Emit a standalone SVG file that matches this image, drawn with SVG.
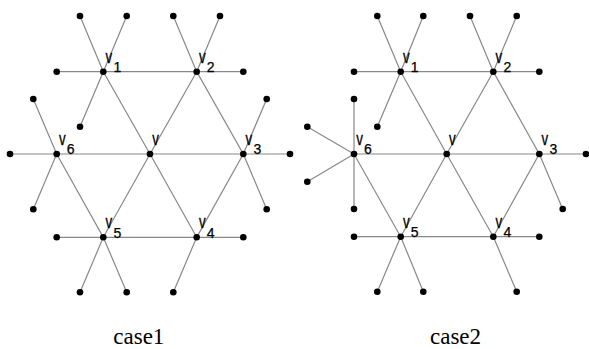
<svg xmlns="http://www.w3.org/2000/svg" width="589" height="349" viewBox="0 0 589 349">
<style>
.e{stroke:#888;stroke-width:1.2;fill:none}
.n{fill:#000}
.lv{font-family:"Liberation Sans",Arial,sans-serif;font-size:18px;fill:#000;stroke:#000;stroke-width:0.3}
.ls{font-family:"Liberation Sans",Arial,sans-serif;font-size:14px;fill:#000;stroke:#000;stroke-width:0.25}
.cap{font-family:"Liberation Serif","Times New Roman",serif;font-size:23px;fill:#000}
</style>
<g id="connectors" class="e">
<path d="M103.3,71.7L196.7,71.7L243.3,154L196.7,237.3L103.3,237.3L56.7,154"/>
<path d="M150,154L103.3,71.7M150,154L196.7,71.7M150,154L243.3,154M150,154L196.7,237.3M150,154L103.3,237.3M150,154L56.7,154"/>
<path d="M103.3,71.7L80,16M103.3,71.7L126.7,16M103.3,71.7L56.7,71.7M103.3,71.7L80,126.7"/>
<path d="M196.7,71.7L173.3,16M196.7,71.7L220,16M196.7,71.7L243.3,71.7"/>
<path d="M243.3,154L266.7,99M243.3,154L290,154M243.3,154L266.7,209.3"/>
<path d="M196.7,237.3L243.3,237.3M196.7,237.3L173.3,292.3"/>
<path d="M103.3,237.3L56.7,237.3M103.3,237.3L80,292.3M103.3,237.3L126.7,292.3"/>
<path d="M56.7,154L33.3,99M56.7,154L10,154M56.7,154L33.3,209.3"/>
<path d="M400.7,71.7L493.3,71.7L539.3,154L493.3,236.7L400.7,236.7L354,154"/>
<path d="M446.7,154L400.7,71.7M446.7,154L493.3,71.7M446.7,154L539.3,154M446.7,154L493.3,236.7M446.7,154L400.7,236.7M446.7,154L354,154"/>
<path d="M400.7,71.7L377.3,16M400.7,71.7L423.3,16M400.7,71.7L354,71.7M400.7,71.7L377.3,126.7"/>
<path d="M493.3,71.7L470,16M493.3,71.7L516.7,16M493.3,71.7L539.3,71.7"/>
<path d="M539.3,154L586,154M539.3,154L562.7,209"/>
<path d="M493.3,236.7L539.3,236.7M493.3,236.7L516.7,291.7"/>
<path d="M400.7,236.7L354,236.7M400.7,236.7L377.3,291.7M400.7,236.7L423.3,291.7"/>
<path d="M354,154L354,99M354,154L307.3,126.7M354,154L307.3,181.7M354,154L354,209"/>
</g>
<g id="c1-v"><circle class="n" cx="150" cy="154" r="3.3"/><text class="lv" transform="translate(152.3,145) scale(0.74,1)">v</text></g>
<g id="c1-v1"><circle class="n" cx="103.3" cy="71.7" r="3.3"/><text class="lv" transform="translate(105.6,62.7) scale(0.74,1)">v</text><text class="ls" x="113.4" y="72">1</text></g>
<g id="c1-v2"><circle class="n" cx="196.7" cy="71.7" r="3.3"/><text class="lv" transform="translate(199,62.7) scale(0.74,1)">v</text><text class="ls" x="206.8" y="72">2</text></g>
<g id="c1-v3"><circle class="n" cx="243.3" cy="154" r="3.3"/><text class="lv" transform="translate(245.6,145) scale(0.74,1)">v</text><text class="ls" x="253.4" y="154.3">3</text></g>
<g id="c1-v4"><circle class="n" cx="196.7" cy="237.3" r="3.3"/><text class="lv" transform="translate(199,228.3) scale(0.74,1)">v</text><text class="ls" x="206.8" y="238">4</text></g>
<g id="c1-v5"><circle class="n" cx="103.3" cy="237.3" r="3.3"/><text class="lv" transform="translate(105.6,228.3) scale(0.74,1)">v</text><text class="ls" x="113.4" y="238">5</text></g>
<g id="c1-v6"><circle class="n" cx="56.7" cy="154" r="3.3"/><text class="lv" transform="translate(59,145) scale(0.74,1)">v</text><text class="ls" x="66.8" y="154.3">6</text></g>
<g id="c1-leaves">
<circle id="c1-l1" class="n" cx="80" cy="16" r="3.3"/>
<circle id="c1-l2" class="n" cx="126.7" cy="16" r="3.3"/>
<circle id="c1-l3" class="n" cx="56.7" cy="71.7" r="3.3"/>
<circle id="c1-l4" class="n" cx="80" cy="126.7" r="3.3"/>
<circle id="c1-l5" class="n" cx="173.3" cy="16" r="3.3"/>
<circle id="c1-l6" class="n" cx="220" cy="16" r="3.3"/>
<circle id="c1-l7" class="n" cx="243.3" cy="71.7" r="3.3"/>
<circle id="c1-l8" class="n" cx="266.7" cy="99" r="3.3"/>
<circle id="c1-l9" class="n" cx="290" cy="154" r="3.3"/>
<circle id="c1-l10" class="n" cx="266.7" cy="209.3" r="3.3"/>
<circle id="c1-l11" class="n" cx="243.3" cy="237.3" r="3.3"/>
<circle id="c1-l12" class="n" cx="173.3" cy="292.3" r="3.3"/>
<circle id="c1-l13" class="n" cx="56.7" cy="237.3" r="3.3"/>
<circle id="c1-l14" class="n" cx="80" cy="292.3" r="3.3"/>
<circle id="c1-l15" class="n" cx="126.7" cy="292.3" r="3.3"/>
<circle id="c1-l16" class="n" cx="33.3" cy="99" r="3.3"/>
<circle id="c1-l17" class="n" cx="10" cy="154" r="3.3"/>
<circle id="c1-l18" class="n" cx="33.3" cy="209.3" r="3.3"/>
</g>
<g id="c2-v"><circle class="n" cx="446.7" cy="154" r="3.3"/><text class="lv" transform="translate(449,145) scale(0.74,1)">v</text></g>
<g id="c2-v1"><circle class="n" cx="400.7" cy="71.7" r="3.3"/><text class="lv" transform="translate(403,62.7) scale(0.74,1)">v</text><text class="ls" x="410.8" y="72">1</text></g>
<g id="c2-v2"><circle class="n" cx="493.3" cy="71.7" r="3.3"/><text class="lv" transform="translate(495.6,62.7) scale(0.74,1)">v</text><text class="ls" x="503.4" y="72">2</text></g>
<g id="c2-v3"><circle class="n" cx="539.3" cy="154" r="3.3"/><text class="lv" transform="translate(541.6,145) scale(0.74,1)">v</text><text class="ls" x="549.4" y="154.3">3</text></g>
<g id="c2-v4"><circle class="n" cx="493.3" cy="236.7" r="3.3"/><text class="lv" transform="translate(495.6,227.7) scale(0.74,1)">v</text><text class="ls" x="503.4" y="237.4">4</text></g>
<g id="c2-v5"><circle class="n" cx="400.7" cy="236.7" r="3.3"/><text class="lv" transform="translate(403,227.7) scale(0.74,1)">v</text><text class="ls" x="410.8" y="237.4">5</text></g>
<g id="c2-v6"><circle class="n" cx="354" cy="154" r="3.3"/><text class="lv" transform="translate(356.3,145) scale(0.74,1)">v</text><text class="ls" x="364.1" y="154.3">6</text></g>
<g id="c2-leaves">
<circle id="c2-l1" class="n" cx="377.3" cy="16" r="3.3"/>
<circle id="c2-l2" class="n" cx="423.3" cy="16" r="3.3"/>
<circle id="c2-l3" class="n" cx="354" cy="71.7" r="3.3"/>
<circle id="c2-l4" class="n" cx="377.3" cy="126.7" r="3.3"/>
<circle id="c2-l5" class="n" cx="470" cy="16" r="3.3"/>
<circle id="c2-l6" class="n" cx="516.7" cy="16" r="3.3"/>
<circle id="c2-l7" class="n" cx="539.3" cy="71.7" r="3.3"/>
<circle id="c2-l8" class="n" cx="586" cy="154" r="3.3"/>
<circle id="c2-l9" class="n" cx="562.7" cy="209" r="3.3"/>
<circle id="c2-l10" class="n" cx="539.3" cy="236.7" r="3.3"/>
<circle id="c2-l11" class="n" cx="516.7" cy="291.7" r="3.3"/>
<circle id="c2-l12" class="n" cx="354" cy="236.7" r="3.3"/>
<circle id="c2-l13" class="n" cx="377.3" cy="291.7" r="3.3"/>
<circle id="c2-l14" class="n" cx="423.3" cy="291.7" r="3.3"/>
<circle id="c2-l15" class="n" cx="354" cy="99" r="3.3"/>
<circle id="c2-l16" class="n" cx="307.3" cy="126.7" r="3.3"/>
<circle id="c2-l17" class="n" cx="307.3" cy="181.7" r="3.3"/>
<circle id="c2-l18" class="n" cx="354" cy="209" r="3.3"/>
</g>
<text id="cap1" class="cap" x="113.3" y="344">case1</text>
<text id="cap2" class="cap" x="430" y="344">case2</text>
</svg>
